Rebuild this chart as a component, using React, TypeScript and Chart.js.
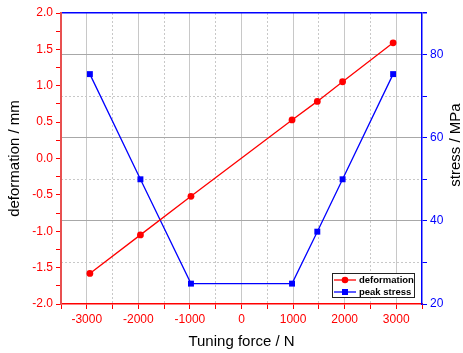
import React, { useEffect, useRef } from "react";
import { Chart, registerables } from "chart.js";

Chart.register(...registerables);

// ---- data ----
const forceN = [-2940, -1960, -980, 980, 1470, 1960, 2940];
const deformationMm = [-1.58, -1.05, -0.52, 0.53, 0.785, 1.055, 1.59];
const peakStressMPa = [75.3, 50.0, 24.9, 24.9, 37.4, 50.0, 75.3];
const seriesNames = ["deformation", "peak stress"];
const xTitle = "Tuning force / N";
const yTitle = "deformation / mm";
const y1Title = "stress / MPa";

const RED = "#ff0000";
const BLUE = "#0000ff";
const FONT = "'Liberation Sans', Arial, sans-serif";

const sidePlugin = {
  id: "sideDecor",
  afterDraw(chart: any) {
    const { ctx, chartArea } = chart;
    // right axis title (reads bottom-to-top)
    ctx.save();
    ctx.translate(456, 145);
    ctx.rotate(-Math.PI / 2);
    ctx.font = `15px ${FONT}`;
    ctx.fillStyle = "#000";
    ctx.textAlign = "center";
    ctx.textBaseline = "middle";
    ctx.fillText(y1Title, 0, 0);
    ctx.restore();

    // legend box inside chart area, bottom right
    const w = 83;
    const h = 25;
    const right = chartArea.right - 7;
    const bottom = chartArea.bottom - 6;
    const left = right - w;
    const top = bottom - h;
    ctx.save();
    ctx.fillStyle = "#fff";
    ctx.fillRect(left, top, w, h);
    ctx.strokeStyle = "#222";
    ctx.lineWidth = 1;
    ctx.strokeRect(left + 0.5, top + 0.5, w - 1, h - 1);
    chart.data.datasets.forEach((ds: any, i: number) => {
      const y = top + 7 + i * 12;
      ctx.strokeStyle = ds.borderColor;
      ctx.lineWidth = 1.3;
      ctx.beginPath();
      ctx.moveTo(left + 2, y);
      ctx.lineTo(left + 24, y);
      ctx.stroke();
      ctx.fillStyle = ds.borderColor;
      if (ds.pointStyle === "rect") {
        ctx.fillRect(left + 13 - 3, y - 3, 6, 6);
      } else {
        ctx.beginPath();
        ctx.arc(left + 13, y, 3.3, 0, Math.PI * 2);
        ctx.fill();
      }
      ctx.fillStyle = "#000";
      ctx.font = `bold 9.5px ${FONT}`;
      ctx.textAlign = "left";
      ctx.textBaseline = "middle";
      ctx.fillText(ds.label, left + 27, y + 0.5);
    });
    ctx.restore();
  },
};

export default function App() {
  const ref = useRef<HTMLCanvasElement | null>(null);

  useEffect(() => {
    if (!ref.current) return;
    const chart = new Chart(ref.current, {
      type: "line",
      data: {
        datasets: [
          {
            label: seriesNames[0],
            data: forceN.map((x, i) => ({ x, y: deformationMm[i] })),
            yAxisID: "y",
            borderColor: RED,
            backgroundColor: RED,
            borderWidth: 1.3,
            pointStyle: "circle",
            pointRadius: 3.4,
            pointBorderWidth: 0,
            pointBackgroundColor: RED,
          },
          {
            label: seriesNames[1],
            data: forceN.map((x, i) => ({ x, y: peakStressMPa[i] })),
            yAxisID: "y1",
            borderColor: BLUE,
            backgroundColor: BLUE,
            borderWidth: 1.3,
            pointStyle: "rect",
            pointRadius: 4.2,
            pointBorderWidth: 0,
            pointBackgroundColor: BLUE,
          },
        ],
      },
      options: {
        animation: false,
        responsive: false,
        layout: { padding: { top: 13, left: 0, right: 0, bottom: 0 } },
        plugins: {
          legend: { display: false },
          tooltip: { enabled: false },
        },
        scales: {
          x: {
            type: "linear",
            position: "bottom",
            min: -3500,
            max: 3500,
            afterFit: (s: any) => {
              s.height = 49;
            },
            ticks: {
              stepSize: 500,
              autoSkip: false,
              maxRotation: 0,
              minRotation: 0,
              color: RED,
              font: { size: 12, family: FONT },
              padding: 3,
              callback: (v: any) => (v % 1000 === 0 ? String(v) : ""),
            },
            grid: {
              drawOnChartArea: true,
              tickLength: 5,
              tickColor: RED,
              color: (c: any) => {
                const v = c.tick ? c.tick.value : 0;
                if (Math.abs(v) === 3500) return "rgba(0,0,0,0)";
                return "#c8c8c8";
              },
            },
            border: {
              color: RED,
              width: 1.5,
              dash: (c: any) => {
                const v = c.tick ? c.tick.value : 0;
                return v % 1000 !== 0 ? [2, 2] : [];
              },
            },
            title: {
              display: true,
              text: xTitle,
              color: "#000",
              font: { size: 15, family: FONT },
              padding: { top: 0, bottom: 2 },
            },
          },
          y: {
            type: "linear",
            position: "left",
            min: -2,
            max: 2,
            afterFit: (s: any) => {
              s.width = 61;
            },
            ticks: {
              stepSize: 0.25,
              autoSkip: false,
              color: RED,
              font: { size: 12, family: FONT },
              padding: 3,
              callback: (v: any) => {
                const d = v * 2;
                return Math.abs(d - Math.round(d)) < 1e-6 ? Number(v).toFixed(1) : "";
              },
            },
            grid: {
              drawOnChartArea: false,
              tickLength: 5,
              tickColor: RED,
            },
            border: { color: "#e85050", width: 2 },
            title: {
              display: true,
              text: yTitle,
              color: "#000",
              font: { size: 15, family: FONT },
              padding: { top: 6, bottom: 0 },
            },
          },
          y1: {
            type: "linear",
            position: "right",
            min: 20,
            max: 90,
            afterFit: (s: any) => {
              s.width = 41;
            },
            ticks: {
              stepSize: 10,
              autoSkip: false,
              color: BLUE,
              font: { size: 12, family: FONT },
              padding: 3,
              callback: (v: any) => (v % 20 === 0 ? String(v) : ""),
            },
            grid: {
              drawOnChartArea: true,
              tickLength: 5,
              tickColor: BLUE,
              color: (c: any) => {
                const v = c.tick ? c.tick.value : 0;
                if (v === 90) return BLUE;
                if (v === 20) return "rgba(0,0,0,0)";
                return v % 20 === 0 ? "#a8a8a8" : "#c8c8c8";
              },
              lineWidth: (c: any) => {
                const v = c.tick ? c.tick.value : 0;
                return v === 90 ? 1.5 : 1;
              },
            },
            border: {
              color: BLUE,
              width: 1.5,
              dash: (c: any) => {
                const v = c.tick ? c.tick.value : 0;
                return v % 20 !== 0 && v !== 90 ? [2, 2] : [];
              },
            },
          },
        },
      },
      plugins: [sidePlugin],
    } as any);
    return () => chart.destroy();
  }, []);

  return (
    <div style={{ position: "fixed", left: 0, top: 0, width: 463, height: 353, background: "#fff" }}>
      <canvas ref={ref} width={463} height={353} style={{ width: 463, height: 353 }} />
    </div>
  );
}
